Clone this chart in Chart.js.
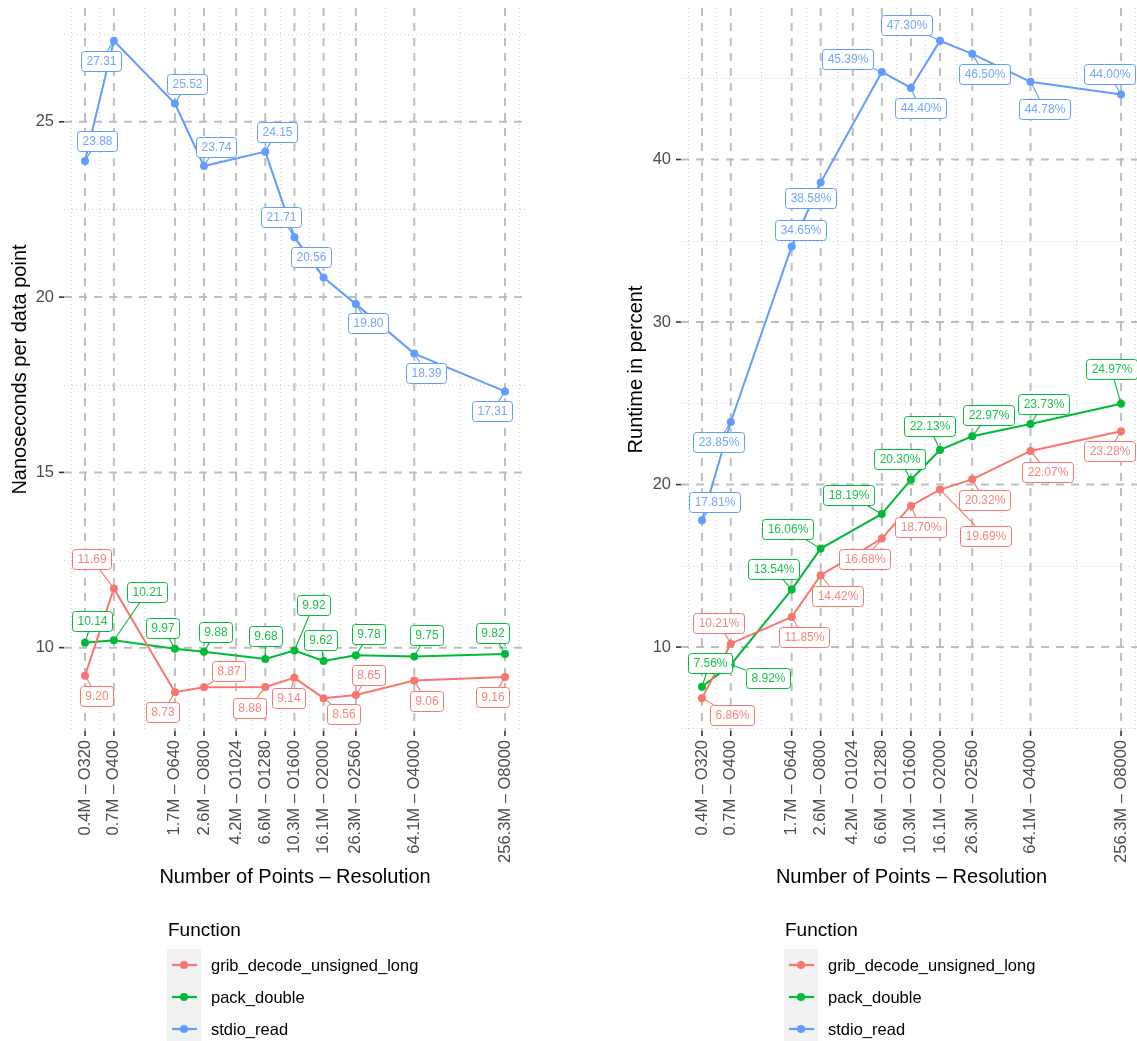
<!DOCTYPE html>
<html>
<head>
<meta charset="utf-8">
<title>Decoding cost per function</title>
<script src="https://cdn.jsdelivr.net/npm/chart.js@4.4.1/dist/chart.umd.min.js"></script>
<style>
  html, body { margin: 0; padding: 0; background: #ffffff; overflow: hidden; }
  #wrap { position: relative; width: 1137px; height: 1041px; overflow: hidden; background: #ffffff; }
  #wrap canvas { position: absolute; top: 0; }
  #cNs { left: 0; }
  #cPct { left: 616px; }
</style>
</head>
<body>
<div id="wrap">
  <canvas id="cNs" width="563" height="1041"></canvas>
  <canvas id="cPct" width="563" height="1041"></canvas>
</div>
<script>
const FONT = "'Liberation Sans', Arial, Helvetica, sans-serif";

// Grid sizes: number of grid points and octahedral resolution
const pointCounts = [421120, 654400, 1661440, 2588800, 4231168, 6599680, 10297600, 16072000, 26306560, 64144000, 256288000];
const resolutionLabels = ['0.4M – O320', '0.7M – O400', '1.7M – O640', '2.6M – O800', '4.2M – O1024', '6.6M – O1280',
  '10.3M – O1600', '16.1M – O2000', '26.3M – O2560', '64.1M – O4000', '256.3M – O8000'];

const functionNames = ['grib_decode_unsigned_long', 'pack_double', 'stdio_read'];
const functionColors = ['#F8766D', '#00BA38', '#619CFF'];

// Nanoseconds per data point (no measurement at O1024)
const nsGrib  = [9.20, 11.69, 8.73, 8.87, null, 8.88, 9.14, 8.56, 8.65, 9.06, 9.16];
const nsPack  = [10.14, 10.21, 9.97, 9.88, null, 9.68, 9.92, 9.62, 9.78, 9.75, 9.82];
const nsStdio = [23.88, 27.31, 25.52, 23.74, null, 24.15, 21.71, 20.56, 19.80, 18.39, 17.31];

// Share of total runtime, in percent
const pctGrib  = [6.86, 10.21, 11.85, 14.42, null, 16.68, 18.70, 19.69, 20.32, 22.07, 23.28];
const pctPack  = [7.56, 8.92, 13.54, 16.06, null, 18.19, 20.30, 22.13, 22.97, 23.73, 24.97];
const pctStdio = [17.81, 23.85, 34.65, 38.58, null, 45.39, 44.40, 47.30, 46.50, 44.78, 44.00];

const nsTicks = [10, 15, 20, 25];
const pctTicks = [10, 20, 30, 40];

// Where each value label sits relative to its point (px), per series
const nsLabelOffsets = [
  [[12, 20], [-22, -29], [-12, 20], [25, -16], null, [-16, 21], [-6, 20], [20, 16], [13, -20], [12, 20], [-12, 20]],
  [[7, -22], [33, -48], [-12, -21], [12, -20], null, [0, -23], [19, -45], [-3, -21], [13, -21], [12, -21], [-12, -21]],
  [[12, -20], [-13, 20], [12, -20], [12, -19], null, [12, -20], [-13, -20], [-13, -20], [12, 19], [12, 19], [-13, 20]]
];
const pctLabelOffsets = [
  [[30, 17], [-12, -21], [12, 20], [17, 21], null, [-17, 20], [9, 21], [45, 46], [12, 21], [17, 21], [-12, 20]],
  [[8, -24], [37, 13], [-18, -21], [-33, -20], null, [-33, -19], [-12, -21], [-11, -24], [16, -21], [13, -20], [-10, -35]],
  [[12, -18], [-12, 20], [9, -16], [-10, 15], null, [-34, -13], [9, 20], [-34, -16], [12, 20], [14, 27], [-12, -20]]
];

// ggplot2-style limits: data range expanded by 5% on each side
function logLimits(vals) {
  const lo = Math.log10(Math.min(...vals)), hi = Math.log10(Math.max(...vals));
  const pad = (hi - lo) * 0.05;
  return [Math.pow(10, lo - pad), Math.pow(10, hi + pad)];
}
function linLimits(series) {
  const all = series.flat().filter(v => v !== null);
  const lo = Math.min(...all), hi = Math.max(...all);
  const pad = (hi - lo) * 0.05;
  return [lo - pad, hi + pad];
}

// Dashed major / dotted minor grid, plus the small axis tick marks
const ggGrid = {
  id: 'ggGrid',
  beforeDatasetsDraw(chart, args, opts) {
    const { ctx, chartArea: a, scales: { x, y } } = chart;
    const lx = opts.xBreaks.map(Math.log10);
    const sx = lx[1] - lx[0];
    const extX = [lx[0] - sx, ...lx, lx[lx.length - 1] + sx];
    const minorX = [];
    for (let i = 0; i < extX.length - 1; i++) minorX.push(Math.pow(10, (extX[i] + extX[i + 1]) / 2));
    const yb = opts.yBreaks;
    const sy = yb[1] - yb[0];
    const extY = [yb[0] - sy, ...yb, yb[yb.length - 1] + sy];
    const minorY = [];
    for (let i = 0; i < extY.length - 1; i++) minorY.push((extY[i] + extY[i + 1]) / 2);

    ctx.save();
    ctx.beginPath();
    ctx.rect(a.left, a.top, a.right - a.left, a.bottom - a.top);
    ctx.clip();

    ctx.strokeStyle = '#CCCCCC';
    ctx.lineWidth = 1;
    ctx.setLineDash([1, 3]);
    minorY.forEach(v => {
      const py = Math.round(y.getPixelForValue(v)) + 0.5;
      ctx.beginPath(); ctx.moveTo(a.left, py); ctx.lineTo(a.right, py); ctx.stroke();
    });
    minorX.forEach(v => {
      const px = Math.round(x.getPixelForValue(v)) + 0.5;
      ctx.beginPath(); ctx.moveTo(px, a.top); ctx.lineTo(px, a.bottom); ctx.stroke();
    });

    ctx.strokeStyle = '#BEBEBE';
    ctx.lineWidth = 2;
    ctx.setLineDash([8, 7]);
    yb.forEach(v => {
      const py = y.getPixelForValue(v);
      ctx.beginPath(); ctx.moveTo(a.left, py); ctx.lineTo(a.right, py); ctx.stroke();
    });
    opts.xBreaks.forEach(v => {
      const px = x.getPixelForValue(v);
      ctx.beginPath(); ctx.moveTo(px, a.top); ctx.lineTo(px, a.bottom); ctx.stroke();
    });
    ctx.restore();

    ctx.save();
    ctx.strokeStyle = '#333333';
    ctx.lineWidth = 1.6;
    yb.forEach(v => {
      const py = y.getPixelForValue(v);
      ctx.beginPath(); ctx.moveTo(a.left - 5, py); ctx.lineTo(a.left, py); ctx.stroke();
    });
    opts.xBreaks.forEach(v => {
      const px = x.getPixelForValue(v);
      ctx.beginPath(); ctx.moveTo(px, a.bottom); ctx.lineTo(px, a.bottom + 5); ctx.stroke();
    });
    ctx.restore();
  }
};

// Boxed value labels with a leader segment back to the point
const valueLabels = {
  id: 'valueLabels',
  afterDatasetsDraw(chart, args, opts) {
    const ctx = chart.ctx;
    ctx.save();
    ctx.font = '12px ' + FONT;
    chart.data.datasets.forEach((ds, di) => {
      const meta = chart.getDatasetMeta(di);
      ds.data.forEach((d, i) => {
        if (d.y === null) return;
        const el = meta.data[i];
        const off = opts.offsets[di][i];
        const text = opts.format(d.y);
        const w = ctx.measureText(text).width + 10;
        const h = 20;
        const cx = el.x + off[0], cy = el.y + off[1];
        const color = ds.borderColor;

        // segment: from the point to where it meets the box outline
        const dx = el.x - cx, dy = el.y - cy;
        const tx = dx !== 0 ? (w / 2) / Math.abs(dx) : Infinity;
        const ty = dy !== 0 ? (h / 2) / Math.abs(dy) : Infinity;
        const t = Math.min(tx, ty);
        if (t < 1) {
          const ex = cx + dx * t, ey = cy + dy * t;
          if (Math.hypot(el.x - ex, el.y - ey) > 3) {
            ctx.strokeStyle = color;
            ctx.lineWidth = 1.1;
            ctx.setLineDash([]);
            ctx.beginPath(); ctx.moveTo(el.x, el.y); ctx.lineTo(ex, ey); ctx.stroke();
          }
        }

        const bx = Math.round(cx - w / 2) + 0.5, by = Math.round(cy - h / 2) + 0.5;
        ctx.beginPath();
        ctx.roundRect(bx, by, Math.round(w), h, 3);
        ctx.fillStyle = '#ffffff';
        ctx.fill();
        ctx.strokeStyle = color;
        ctx.lineWidth = 1;
        ctx.stroke();

        ctx.globalAlpha = 0.9;
        ctx.fillStyle = color;
        ctx.textAlign = 'center';
        ctx.textBaseline = 'middle';
        ctx.fillText(text, bx + Math.round(w) / 2, by + h / 2 + 0.5);
        ctx.globalAlpha = 1;
      });
    });
    ctx.restore();
  }
};

// Legend laid out below the axis title: title, then one key per function
const ggLegend = {
  id: 'ggLegend',
  afterDraw(chart, args, opts) {
    const { ctx, chartArea: a } = chart;
    const left = a.left + 103;
    const keyTop = a.bottom + 218;
    const keyW = 34, keyH = 32;
    ctx.save();
    ctx.fillStyle = '#000000';
    ctx.font = '19px ' + FONT;
    ctx.textAlign = 'left';
    ctx.textBaseline = 'alphabetic';
    ctx.fillText(opts.title, left + 1, a.bottom + 205);

    ctx.fillStyle = '#F2F2F2';
    ctx.fillRect(left, keyTop, keyW, keyH * chart.data.datasets.length);

    chart.data.datasets.forEach((ds, i) => {
      const cy = keyTop + keyH * i + keyH / 2;
      ctx.strokeStyle = ds.borderColor;
      ctx.lineWidth = 2.2;
      ctx.beginPath(); ctx.moveTo(left + 5, cy); ctx.lineTo(left + 30, cy); ctx.stroke();
      ctx.fillStyle = ds.borderColor;
      ctx.beginPath(); ctx.arc(left + 17, cy, 4, 0, Math.PI * 2); ctx.fill();
      ctx.fillStyle = '#000000';
      ctx.font = '16.5px ' + FONT;
      ctx.textBaseline = 'middle';
      ctx.fillText(ds.label, left + 44, cy + 1);
    });
    ctx.restore();
  }
};

function makeDatasets(seriesList) {
  return seriesList.map((vals, k) => ({
    label: functionNames[k],
    data: pointCounts.map((x, i) => ({ x: x, y: vals[i] })),
    borderColor: functionColors[k],
    backgroundColor: functionColors[k],
    borderWidth: 2,
    pointRadius: 4,
    pointBorderWidth: 0,
    pointHoverRadius: 4,
    spanGaps: true,
    tension: 0,
    clip: false
  }));
}

function buildChart(canvasId, seriesList, yTicks, yTitle, labelOffsets, format) {
  const [xMin, xMax] = logLimits(pointCounts);
  const [yMin, yMax] = linLimits(seriesList);
  return new Chart(document.getElementById(canvasId), {
    type: 'line',
    data: { datasets: makeDatasets(seriesList) },
    options: {
      responsive: false,
      animation: false,
      events: [],
      layout: { padding: { left: 0, top: 8, right: 37, bottom: 146 } },
      scales: {
        x: {
          type: 'logarithmic',
          min: xMin,
          max: xMax,
          border: { display: false },
          grid: { display: false, drawTicks: true, tickLength: 4 },
          afterBuildTicks: s => { s.ticks = pointCounts.map(v => ({ value: v })); },
          afterFit: s => { s.height = 164; s.paddingLeft = 0; s.paddingRight = 0; },
          ticks: {
            autoSkip: false,
            minRotation: 90,
            maxRotation: 90,
            padding: 5,
            color: '#4D4D4D',
            font: { family: FONT, size: 16.5 },
            callback: (v, i) => resolutionLabels[i]
          },
          title: {
            display: true,
            text: 'Number of Points – Resolution',
            color: '#000000',
            font: { family: FONT, size: 20 },
            padding: { top: 0, bottom: 6 }
          }
        },
        y: {
          type: 'linear',
          min: yMin,
          max: yMax,
          border: { display: false },
          grid: { display: false, drawTicks: true, tickLength: 5 },
          afterBuildTicks: s => { s.ticks = yTicks.map(v => ({ value: v })); },
          afterFit: s => { s.width = canvasId === 'cNs' ? 64 : 65; s.paddingTop = 0; s.paddingBottom = 0; },
          ticks: {
            padding: 5,
            color: '#4D4D4D',
            font: { family: FONT, size: 16.5 },
            callback: v => String(v)
          },
          title: {
            display: true,
            text: yTitle,
            color: '#000000',
            font: { family: FONT, size: 20 },
            padding: { top: 8, bottom: 0 }
          }
        }
      },
      plugins: {
        legend: { display: false },
        tooltip: { enabled: false },
        ggGrid: { xBreaks: pointCounts, yBreaks: yTicks },
        valueLabels: { offsets: labelOffsets, format: format },
        ggLegend: { title: 'Function' }
      }
    },
    plugins: [ggGrid, valueLabels, ggLegend]
  });
}

buildChart('cNs', [nsGrib, nsPack, nsStdio], nsTicks, 'Nanoseconds per data point',
  nsLabelOffsets, v => v.toFixed(2));
buildChart('cPct', [pctGrib, pctPack, pctStdio], pctTicks, 'Runtime in percent',
  pctLabelOffsets, v => v.toFixed(2) + '%');
</script>
</body>
</html>
